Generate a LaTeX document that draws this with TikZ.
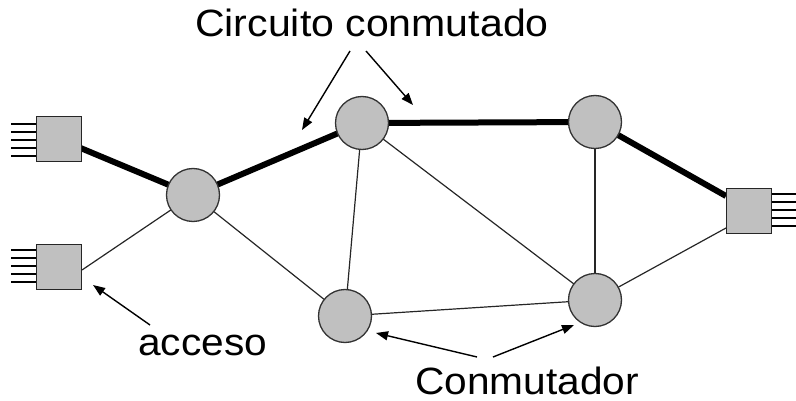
\documentclass[tikz,border=0pt]{standalone}
\usepackage{fontspec}
\setmainfont{Liberation Sans}
\usetikzlibrary{arrows.meta}
\begin{document}
\begin{tikzpicture}[x=1pt,y=-1pt,
  sw/.style={circle,draw=black!80,line width=1.3pt,fill={rgb,255:red,192;green,192;blue,192},minimum size=53pt,inner sep=0pt},
  acc/.style={rectangle,draw=black!85,line width=1.6pt,fill={rgb,255:red,192;green,192;blue,192},minimum size=45pt,inner sep=0pt},
  thick link/.style={line width=6pt},
  thin link/.style={line width=1.2pt,draw=black!85},
  pin/.style={line width=1.3pt},
  lbl/.style={font=\fontsize{38}{41}\selectfont,inner sep=0pt,anchor=base west},
  pointer/.style={line width=1.4pt,-{Triangle[length=12pt,width=9pt]}}]
\useasboundingbox (0,0) rectangle (796,401);
% links first
\coordinate (A) at (59,139);
\coordinate (B) at (59,267);
\coordinate (C) at (749,211);
\coordinate (N1) at (193,195);
\coordinate (N2) at (362,123);
\coordinate (N3) at (345,316);
\coordinate (N4) at (595,122);
\coordinate (N5) at (595,300);
\coordinate (b1) at (82,270);
\coordinate (c1) at (726,228);
\coordinate (c2) at (726,196);
\draw[thick link] (A) -- (N1) -- (N2) -- (N4) -- (c2);
\draw[thin link] (b1) -- (N1);
\draw[thin link] (N1) -- (N3);
\draw[thin link] (N2) -- (N3);
\draw[thin link] (N2) -- (N5);
\draw[thin link] (N4) -- (N5);
\draw[thin link] (N3) -- (N5);
\draw[thin link] (N5) -- (c1);
% pins
\foreach \y in {124,132,140,148,156} \draw[pin] (11,\y) -- (36,\y);
\foreach \y in {250,258,266,274,282} \draw[pin] (11,\y) -- (36,\y);
\foreach \y in {194,202,210,218,226} \draw[pin] (772,\y) -- (796,\y);
% nodes
\node[acc] (bA) at (A) {};
\node[acc] (bB) at (B) {};
\node[acc] (bC) at (C) {};
\node[sw] (s1) at (N1) {};
\node[sw] (s2) at (N2) {};
\node[sw] (s3) at (N3) {};
\node[sw] (s4) at (N4) {};
\node[sw] (s5) at (N5) {};
% labels
\node[lbl] (t1) at (195,37) {\scalebox{1.08}[1]{Circuito conmutado}};
\node[lbl] (t2) at (138,355) {\scalebox{1.07}[1]{acceso}};
\node[lbl] (t3) at (415,394) {\scalebox{1.07}[1]{Conmutador}};
% pointers
\coordinate (p1) at (350,51); \coordinate (q1) at (302,130);
\coordinate (p2) at (366,51); \coordinate (q2) at (413,105);
\coordinate (p3) at (150,325); \coordinate (q3) at (93,285);
\coordinate (p4) at (477,357); \coordinate (q4) at (376,333);
\coordinate (p5) at (493,357); \coordinate (q5) at (574,325);
\draw[pointer] (p1) -- (q1);
\draw[pointer] (p2) -- (q2);
\draw[pointer] (p3) -- (q3);
\draw[pointer] (p4) -- (q4);
\draw[pointer] (p5) -- (q5);
\end{tikzpicture}
\end{document}
